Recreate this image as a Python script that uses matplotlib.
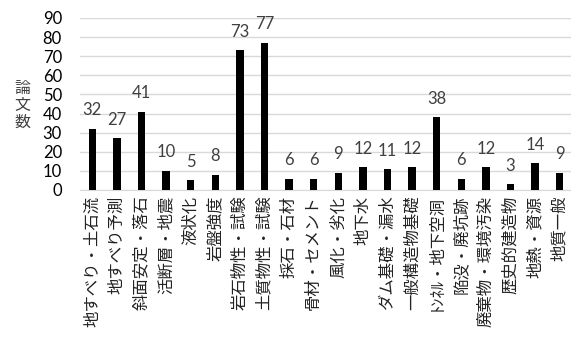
import matplotlib
matplotlib.use("Agg")
import matplotlib.pyplot as plt

categories = ["地すべり・土石流", "地すべり予測", "斜面安定・落石", "活断層・地震", "液状化",
              "岩盤強度", "岩石物性・試験", "土質物性・試験", "採石・石材", "骨材・セメント",
              "風化・劣化", "地下水", "ダム基礎・漏水", "一般構造物基礎", "ﾄﾝﾈﾙ・地下空洞",
              "陥没・廃坑跡", "廃棄物・環境汚染", "歴史的建造物", "地熱・資源", "地質一般"]
values = [32, 27, 41, 10, 5, 8, 73, 77, 6, 6, 9, 12, 11, 12, 38, 6, 12, 3, 14, 9]
yticks = [0, 10, 20, 30, 40, 50, 60, 70, 80, 90]
ylabel = "論文数"

jp = ["Noto Sans CJK JP", "DejaVu Sans"]
num = ["Lato", "DejaVu Sans"]

fig = plt.figure(figsize=(5.71, 3.49), dpi=100)
ax = fig.add_axes([80/571, 1-190/349, 492/571, (190-18)/349])

x = range(len(categories))
bars = ax.bar(x, values, width=0.3, color="black", zorder=3)
for xi, v in zip(x, values):
    ax.annotate(str(v), (xi, v), xytext=(0, 7.5), textcoords="offset points",
                ha="center", va="bottom", fontsize=12, color="#404040", family=num)

ax.set_xlim(-0.5, len(categories) - 0.5)
ax.set_ylim(0, 90)
ax.set_yticks(yticks)
ax.set_yticklabels([str(t) for t in yticks], family=num, fontsize=12, color="black")
ax.set_xticks(list(x))
ax.set_xticklabels(categories, rotation=90, family=jp, fontsize=11.8, color="#222222",
                   va="top", ha="center")
ax.tick_params(axis="both", length=0)
ax.tick_params(axis="x", pad=4)
ax.tick_params(axis="y", pad=13)
ax.grid(axis="y", color="#d9d9d9", linewidth=1, zorder=0)
for s in ["top", "right", "left"]:
    ax.spines[s].set_visible(False)
ax.spines["bottom"].set_color("#d9d9d9")
ax.spines["bottom"].set_zorder(0)

for i, ch in enumerate(ylabel):
    fig.text(22/571, 1-(88 + 17*i)/349, ch, family=jp, fontsize=11.5, ha="center",
             va="center", color="#404040")

fig.savefig("out.png", dpi=100)
